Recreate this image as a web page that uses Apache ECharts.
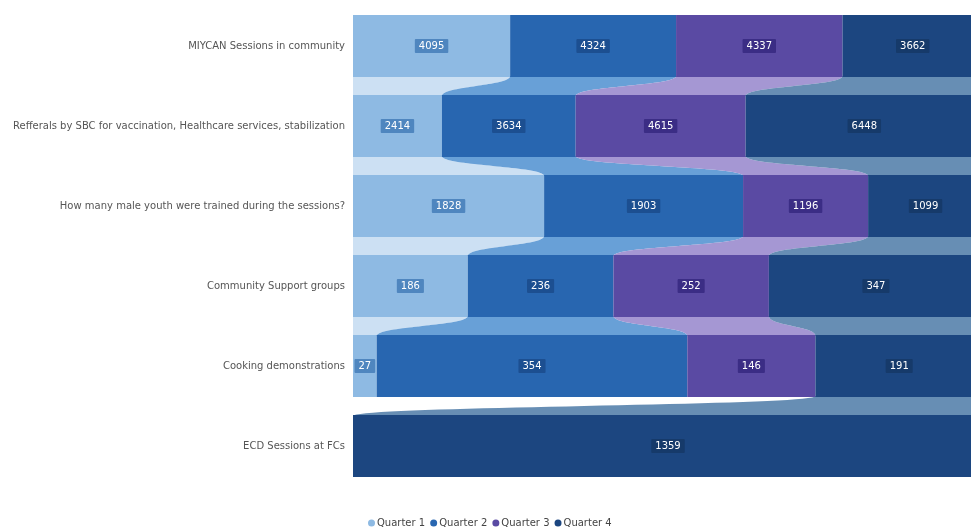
<!DOCTYPE html>
<html>
<head>
<meta charset="utf-8">
<script src="https://cdn.jsdelivr.net/npm/echarts@6/dist/echarts.min.js"></script>
<style>
  html, body { margin: 0; padding: 0; background: #fff; }
  #chart { width: 971px; height: 532px; }
</style>
</head>
<body>
<div id="chart"></div>
<script>
const categories = [
  'MIYCAN Sessions in community',
  'Refferals by SBC for vaccination, Healthcare services, stabilization',
  'How many male youth were trained during the sessions?',
  'Community Support groups',
  'Cooking demonstrations',
  'ECD Sessions at FCs'
];
const quarters = ['Quarter 1', 'Quarter 2', 'Quarter 3', 'Quarter 4'];
const q1 = [4095, 2414, 1828, 186, 27, 0];
const q2 = [4324, 3634, 1903, 236, 354, 0];
const q3 = [4337, 4615, 1196, 252, 146, 0];
const q4 = [3662, 6448, 1099, 347, 191, 1359];

const raw = [q1, q2, q3, q4];
const COLORS = ['#8ebae3', '#2866b0', '#5a4aa3', '#1c4680'];
const RIBBON = ['#c8ddf2', '#5b98d4', '#9d8ecf', '#5a84ae'];
const LABEL_BG = ['#4f86bf', '#1c4f91', '#3b2d85', '#163a6a'];
const BAR_RATIO = 0.775;
const FONT = 'DejaVu Sans';

// 每行按总数换算成百分比（100% 堆叠）
const totals = categories.map((_, i) => raw.reduce((s, arr) => s + arr[i], 0));
const shares = raw.map(arr => arr.map((v, i) => v ? v / totals[i] * 100 : 0));

// 某行某季度在横轴上的起止百分比
function span(row, s) {
  let start = 0;
  for (let k = 0; k < s; k++) start += shares[k][row];
  return [start, start + shares[s][row]];
}

// 相邻两行之间的丝带
const ribbonData = [];
for (let s = 0; s < quarters.length; s++) {
  for (let i = 0; i < categories.length - 1; i++) {
    if (raw[s][i] && raw[s][i + 1]) ribbonData.push([i, s]);
  }
}

function bez(p0, p1, p2, p3, n) {
  const pts = [];
  for (let k = 0; k <= n; k++) {
    const t = k / n, u = 1 - t;
    pts.push([
      u*u*u*p0[0] + 3*u*u*t*p1[0] + 3*u*t*t*p2[0] + t*t*t*p3[0],
      u*u*u*p0[1] + 3*u*u*t*p1[1] + 3*u*t*t*p2[1] + t*t*t*p3[1]
    ]);
  }
  return pts;
}

function renderRibbon(params, api) {
  const row = api.value(0), s = api.value(1);
  const band = api.size([0, 1])[1];
  const half = band * BAR_RATIO / 2;
  const [a0, a1] = span(row, s);
  const [b0, b1] = span(row + 1, s);
  const y1 = api.coord([0, row])[1] + half - 1;
  const y2 = api.coord([0, row + 1])[1] - half + 1;
  const ym = (y1 + y2) / 2;
  const xa0 = api.coord([a0, row])[0], xa1 = api.coord([a1, row])[0];
  const xb0 = api.coord([b0, row])[0], xb1 = api.coord([b1, row])[0];
  const right = bez([xa1, y1], [xa1, ym], [xb1, ym], [xb1, y2], 40);
  const left = bez([xb0, y2], [xb0, ym], [xa0, ym], [xa0, y1], 40);
  return {
    type: 'polygon',
    shape: { points: [[xa0, y1]].concat(right, left) },
    style: { fill: RIBBON[s], opacity: 0.92 }
  };
}

const chart = echarts.init(document.getElementById('chart'));

const barSeries = quarters.map((q, s) => ({
  name: q,
  type: 'bar',
  stack: 'total',
  barWidth: (BAR_RATIO * 100) + '%',
  z: 3,
  itemStyle: { color: COLORS[s] },
  data: shares[s].map((v, i) => raw[s][i] ? v : null),
  label: {
    show: true,
    position: 'inside',
    formatter: p => String(raw[s][p.dataIndex]),
    color: '#fff',
    fontSize: 10,
    fontFamily: FONT,
    backgroundColor: LABEL_BG[s],
    padding: [2, 4],
    borderRadius: 1
  }
}));

chart.setOption({
  animation: false,
  color: COLORS,
  // 绘图区右侧略超出画布（参考图被裁切）
  grid: { left: 353, width: 630, top: 6, bottom: 46, outerBoundsMode: 'none' },
  legend: {
    data: quarters,
    top: 518,
    left: 368,
    icon: 'circle',
    itemWidth: 7,
    itemHeight: 7,
    itemGap: 5,
    padding: 0,
    textStyle: { fontSize: 10, color: '#444', fontFamily: FONT, padding: [0, 0, 0, -3] }
  },
  xAxis: { type: 'value', min: 0, max: 100, show: false },
  yAxis: {
    type: 'category',
    inverse: true,
    data: categories,
    axisLine: { show: false },
    axisTick: { show: false },
    axisLabel: { color: '#555', fontSize: 10, fontFamily: FONT, margin: 8 }
  },
  series: [
    {
      type: 'custom',
      name: 'ribbons',
      z: 1,
      silent: true,
      renderItem: renderRibbon,
      data: ribbonData
    },
    ...barSeries
  ]
});
</script>
</body>
</html>
